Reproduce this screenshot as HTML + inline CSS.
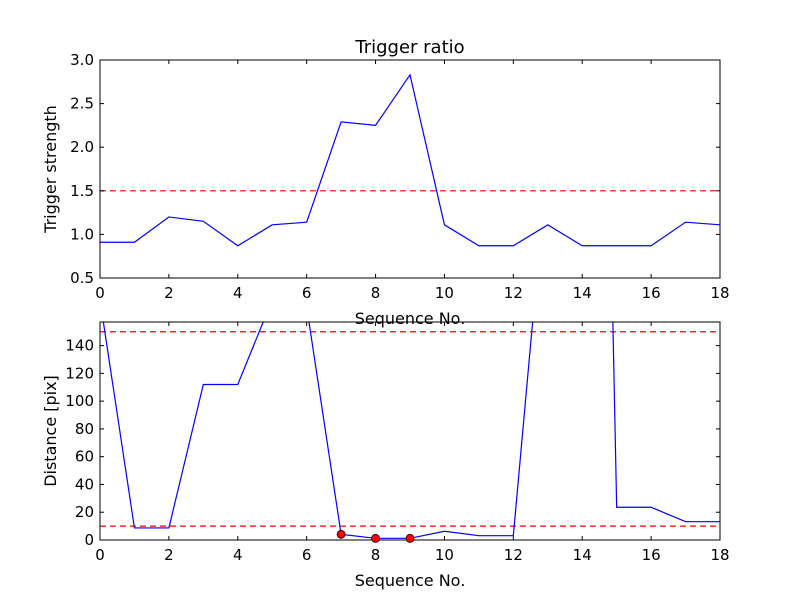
<!DOCTYPE html>
<html><head><meta charset="utf-8"><style>body{margin:0;background:#fff}svg text{font-family:"DejaVu Sans","Liberation Sans",sans-serif}</style></head>
<body>
<svg id="c" width="800" height="600" xmlns="http://www.w3.org/2000/svg"></svg>
<script>
const seq = [0,1,2,3,4,5,6,7,8,9,10,11,12,13,14,15,16,17,18];
const ratio = [0.91,0.91,1.2,1.15,0.87,1.11,1.14,2.29,2.25,2.83,1.11,0.87,0.87,1.11,0.87,0.87,0.87,1.14,1.11];
const dist = [173,8.7,8.7,112,112,173,168,4.1,1.2,1.2,6.3,3.1,3.1,278,1236,23.6,23.6,13.2,13.2];
const flagged = [7,8,9];
const ratioThreshold = [1.5];
const distThresholds = [150,10];
const xTicks = [0,2,4,6,8,10,12,14,16,18];
const ratioTicks = [0.5,1.0,1.5,2.0,2.5,3.0];
const distTicks = [0,20,40,60,80,100,120,140];

const svg = document.getElementById('c');
const NS = 'http://www.w3.org/2000/svg';
function mk(tag, attrs, parent){const e=document.createElementNS(NS,tag);for(const k in attrs)e.setAttribute(k,attrs[k]);(parent||svg).appendChild(e);return e;}

function panel(name, top, bottom, ymin, ymax, yTicks, yFmt, vals, thresholds, ylabel, title){
  const L=100,R=720;
  const X=v=>L+(v-0)/(18-0)*(R-L);
  const Y=v=>bottom-(v-ymin)/(ymax-ymin)*(bottom-top);
  const g=mk('g',{});
  
  
  const defs=mk('clipPath',{id:name+'clip'},g);
  mk('rect',{x:L,y:top,width:R-L,height:bottom-top},defs);
  thresholds.forEach(t=>{
    const l=mk('line',{x1:L,x2:R,y1:Y(t),y2:Y(t),stroke:'#ff0000','stroke-width':1.2,'stroke-dasharray':'6,4'},g);
    
    
  });
  const pl=mk('polyline',{points:seq.map((s,i)=>X(s)+','+Y(vals[i])).join(' '),fill:'none',stroke:'#0000ff','stroke-width':1.2,'clip-path':'url(#'+name+'clip)'},g);
  
  
  mk('rect',{x:L,y:top,width:R-L,height:bottom-top,fill:'none',stroke:'#000','stroke-width':1},g);
  xTicks.forEach(t=>{
    mk('line',{x1:X(t),x2:X(t),y1:bottom,y2:bottom-4,stroke:'#000'},g);
    mk('line',{x1:X(t),x2:X(t),y1:top,y2:top+4,stroke:'#000'},g);
    const tx=mk('text',{x:X(t),y:bottom+20,'text-anchor':'middle','font-size':15},g);tx.textContent=t;
    
    
  });
  yTicks.forEach(t=>{
    mk('line',{x1:L,x2:L+4,y1:Y(t),y2:Y(t),stroke:'#000'},g);
    mk('line',{x1:R,x2:R-4,y1:Y(t),y2:Y(t),stroke:'#000'},g);
    const tx=mk('text',{x:L-6,y:Y(t)+5,'text-anchor':'end','font-size':15},g);tx.textContent=yFmt(t);
    
    
  });
  const xl=mk('text',{x:410,y:bottom+46,'text-anchor':'middle','font-size':16},g);xl.textContent='Sequence No.';
  
  
  const yl=mk('text',{x:0,y:0,'text-anchor':'middle','font-size':16,transform:'translate(56,'+((top+bottom)/2)+') rotate(-90)'},g);yl.textContent=ylabel;
  
  
  if(title){const tt=mk('text',{x:410,y:53,'text-anchor':'middle','font-size':18},g);tt.textContent=title;
    
    }
  return {X,Y,g};
}
panel('ratio',60,278,0.5,3.0,ratioTicks,t=>t.toFixed(1),ratio,ratioThreshold,'Trigger strength','Trigger ratio');
const p2=panel('distance',322,540,0,157,distTicks,t=>String(t),dist,distThresholds,'Distance [pix]',null);
flagged.forEach(i=>{
  const c=mk('circle',{cx:p2.X(seq[i]),cy:p2.Y(dist[i]),r:4,fill:'#ff0000',stroke:'#000','stroke-width':0.8},p2.g);
  
  
});
</script>
</body></html>
